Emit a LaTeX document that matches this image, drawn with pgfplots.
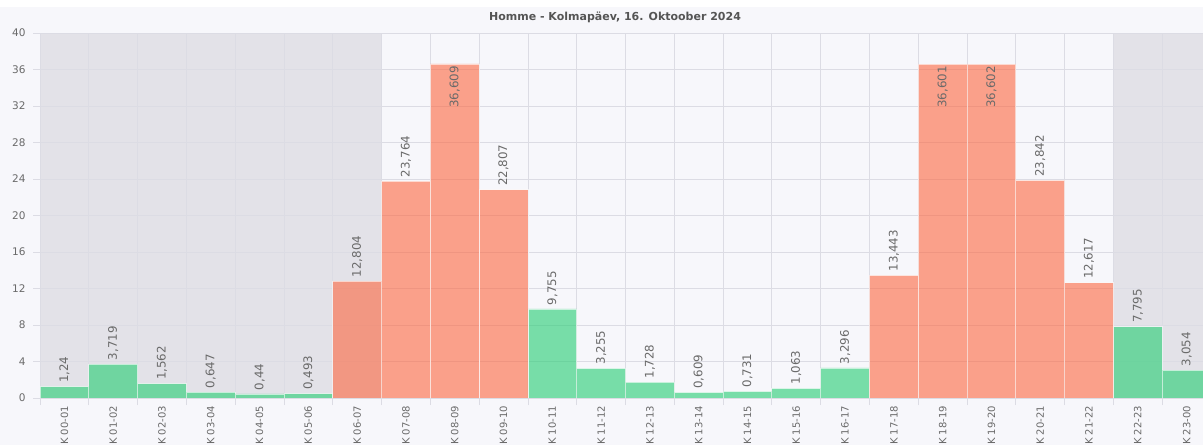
\documentclass[border=0pt]{standalone}
\usepackage{fontspec}
\setmainfont{DejaVu Sans}
\usepackage{pgfplots}
\pgfplotsset{compat=1.18}
\definecolor{pagebg}{HTML}{F7F7FB}
\definecolor{nightbg}{HTML}{E3E2E8}
\definecolor{gridc}{HTML}{DCDCE4}
\definecolor{txt}{HTML}{6A6A6A}
\definecolor{titlec}{HTML}{555555}
\definecolor{cGreen}{HTML}{23CD71}
\definecolor{cOrange}{HTML}{FC663F}
\pgfdeclarelayer{pagelayer}
\pgfplotsset{layers/mine/.define layer set={pagelayer,axis background,axis grid,axis ticks,axis lines,axis tick labels,pre main,main,axis descriptions,axis foreground}{}}

\begin{document}
\begin{tikzpicture}
\begin{axis}[
    set layers=mine,
    at={(0,0)}, anchor=south west,
    scale only axis, width=1171bp, height=365bp,
    xmin=0, xmax=24, ymin=0, ymax=40,
    axis line style={draw=none},
    ytick={0,4,...,40},
    xtick={0.5,1.5,...,23.5},
    xticklabels={K 00-01,K 01-02,K 02-03,K 03-04,K 04-05,K 05-06,K 06-07,K 07-08,K 08-09,K 09-10,K 10-11,K 11-12,K 12-13,K 13-14,K 14-15,K 15-16,K 16-17,K 17-18,K 18-19,K 19-20,K 20-21,K 21-22,K 22-23,K 23-00},
    minor xtick={0,1,...,24},
    xminorgrids, ymajorgrids,
    grid style={draw=gridc, line width=0.8bp},
    minor grid style={draw=gridc, line width=0.8bp},
    tick align=outside, xtick pos=left, ytick pos=left,
    major tick length=7bp, minor tick length=7bp,
    major x tick style={draw=none},
    minor x tick style={draw=gridc, line width=0.8bp},
    ytick style={draw=gridc, line width=0.8bp},
    ticklabel style={font=\fontsize{10.5bp}{12bp}\selectfont, text=txt},
    xticklabel style={rotate=90, anchor=east, inner sep=0.8bp, font=\fontsize{10bp}{12bp}\selectfont},
    yticklabel style={xshift=-4bp},
    /pgf/number format/assume math mode=true,
    nodes near coords={\pgfmathprintnumber[use comma, precision=3, assume math mode=true]{\pgfplotspointmeta}},
    nodes near coords style={rotate=90, anchor=west, inner sep=3.5bp, fill opacity=1, text opacity=1, draw opacity=1,
      font=\fontsize{11.8bp}{13bp}\selectfont, text=txt},
]
\begin{pgfonlayer}{pagelayer}
\fill[pagebg] ([shift={(-40bp,-47bp)}]axis cs:0,0) rectangle ([shift={(-8bp,26bp)}]axis cs:24,40);
\end{pgfonlayer}
\begin{pgfonlayer}{axis background}
\fill[nightbg] (axis cs:0,0) rectangle (axis cs:7,40);
\fill[nightbg] (axis cs:22,0) rectangle (axis cs:24,40);
\end{pgfonlayer}
% low hours
\addplot[ybar, bar width=1, bar shift=0pt, fill=cGreen, fill opacity=0.6, draw=white, draw opacity=0.6, line width=0.8bp]
coordinates {(0.5,1.24) (1.5,3.719) (2.5,1.562) (3.5,0.647) (4.5,0.44) (5.5,0.493)
 (10.5,9.755) (11.5,3.255) (12.5,1.728) (13.5,0.609) (14.5,0.731) (15.5,1.063) (16.5,3.296)
 (22.5,7.795) (23.5,3.054)};
% peak hours
\addplot[ybar, bar width=1, bar shift=0pt, fill=cOrange, fill opacity=0.6, draw=white, draw opacity=0.6, line width=0.8bp]
coordinates {(6.5,12.804) (7.5,23.764) (9.5,22.807) (17.5,13.443) (20.5,23.842) (21.5,12.617)};
% peaks whose labels sit inside the bar
\addplot[ybar, bar width=1, bar shift=0pt, fill=cOrange, fill opacity=0.6, draw=white, draw opacity=0.6, line width=0.8bp,
  nodes near coords style={anchor=east, inner sep=2bp}]
coordinates {(8.5,36.609) (18.5,36.601) (19.5,36.602)};
\end{axis}
\node[font=\bfseries\fontsize{11bp}{13bp}\selectfont, text=titlec] at (575bp,381bp) {Homme - Kolmapäev, 16. Oktoober 2024};
\pgfresetboundingbox
\useasboundingbox (-40bp,-47bp) rectangle (1163bp,398bp);
\end{tikzpicture}
\end{document}
